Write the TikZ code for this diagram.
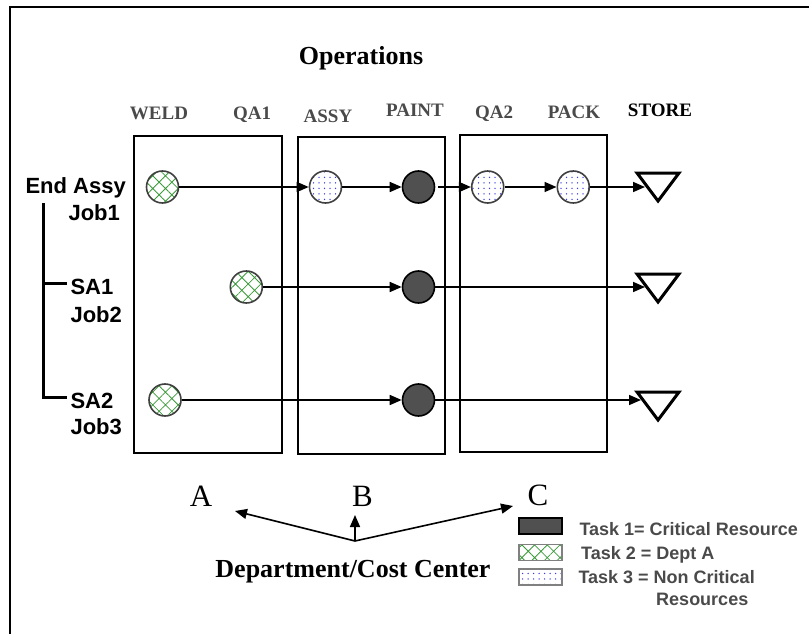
\documentclass[tikz,border=0pt]{standalone}
\usepackage{fontspec}
\setmainfont{Liberation Serif}
\setsansfont{Liberation Sans}
\usetikzlibrary{arrows.meta,patterns.meta}

\definecolor{critgray}{HTML}{505050}
\definecolor{labgray}{HTML}{4A4A4A}
\definecolor{rimgray}{HTML}{404040}
\definecolor{hatchgreen}{HTML}{3A9A3A}
\definecolor{dotblue}{HTML}{3C3CE6}

\begin{document}
\begin{tikzpicture}[x=1pt,y=-1pt,
    crit/.style={draw=black,fill=critgray},
    deptA/.style={draw=rimgray,pattern={Hatch[angle=45,distance=9pt,line width=0.8pt]},pattern color=hatchgreen},
    noncrit/.style={draw=rimgray,pattern={Dots[distance=5.5pt,radius=0.75pt]},pattern color=dotblue},
    hdr/.style={anchor=base,text=labgray,font=\bfseries\fontsize{19}{22}\selectfont},
    job/.style={anchor=base west,font=\sffamily\bfseries\fontsize{22}{26}\selectfont},
    legtext/.style={anchor=base west,text=labgray,font=\sffamily\bfseries\fontsize{18}{21}\selectfont},
    dept/.style={anchor=base,font=\fontsize{31}{36}\selectfont},
    legbox/.style={rectangle,minimum width=43pt,minimum height=16pt,inner sep=0pt,line width=1.6pt},
    storetri/.style={line width=3pt,line join=miter},
    flow/.style={-{Triangle[length=12pt,width=10pt]},line width=1.6pt}
  ]

      \useasboundingbox (0,0) rectangle (809,634);
      \draw[line width=2pt] (10,634) -- (10,7) -- (809,7);

      % departments
      \draw[line width=1.8pt] (134,136) rectangle (282,453);
      \draw[line width=1.8pt] (298,137) rectangle (445,454);
      \draw[line width=1.8pt] (460,135) rectangle (607,452);

      \node[anchor=base,font=\bfseries\fontsize{26}{30}\selectfont] (ops) at (361,65) {Operations};
      \foreach \x/\y/\t in {159/119/WELD,252/119/QA1,328/122/ASSY,415/117/PAINT,494/118/QA2,574/118/PACK}
        \node[hdr] (h\t) at (\x,\y) {\t};
      \node[hdr,text=black] (hSTORE) at (660,117) {STORE};

      % jobs
      \node[job] (ea) at (22,193) {End Assy};
      \node[job] (j1) at (65,220) {Job1};
      \node[job] (sa1) at (67,294) {SA1};
      \node[job] (j2) at (67,322) {Job2};
      \node[job] (sa2) at (67,408) {SA2};
      \node[job] (j3) at (67,434) {Job3};
      \coordinate (t0) at (43,203);
      \coordinate (t1) at (43,283);
      \coordinate (t2) at (43,397);
      \draw[line width=3pt] (t0) -- (t2) -- ++(24,0);
      \draw[line width=3pt] (t1) -- ++(24,0);

      % stores
      \foreach \n/\y in {1/173,2/274,3/392}
        \draw[storetri] (637,\y) coordinate (s\n) -- ++(42,0) -- ++(-21,28) -- cycle;
      \coordinate (e1) at (645,187);
      \coordinate (e2) at (645,287);
      \coordinate (e3) at (641,400);

      \begin{scope}[every node/.style={circle,minimum size=32pt,inner sep=0pt,line width=1.6pt}]
        \node[deptA]   (w1) at (162.5,187) {};
        \node[noncrit] (a1) at (325.5,187) {};
        \node[crit]    (p1) at (418.5,187) {};
        \node[noncrit] (q1) at (487.7,187) {};
        \node[noncrit] (k1) at (573.3,187) {};
        \node[deptA]   (q2) at (246.3,287) {};
        \node[crit]    (p2) at (418.5,287) {};
        \node[deptA]   (w3) at (165,400) {};
        \node[crit]    (p3) at (418.5,400) {};
      \end{scope}

      \begin{scope}[every edge/.style={draw,flow}]
        \path (w1) edge (a1);
        \path (a1) edge (p1);
        \path (p1) edge[shorten <=3pt] (q1);
        \path (q1) edge (k1);
        \path (k1) edge (e1);
        \path (q2) edge (p2);
        \path (p2) edge (e2);
        \path (w3) edge (p3);
        \path (p3) edge (e3);
      \end{scope}

      % cost centers
      \node[dept] (A) at (201,506) {A};
      \node[dept] (B) at (362.5,506) {B};
      \node[dept] (C) at (538,505) {C};
      \coordinate (dj) at (355,541);
      \coordinate (ta) at (235,511);
      \coordinate (tb) at (355,515);
      \coordinate (tc) at (513,506);
      \draw[flow] (dj) -- (ta);
      \draw[flow] (dj) -- (tb);
      \draw[flow] (dj) -- (tc);
      \node[anchor=base,font=\bfseries\fontsize{26}{30}\selectfont] (dcc) at (353,577) {Department/Cost Center};

      % legend
      \node[legbox,crit] (l1) at (540.5,526) {};
      \node[legbox,deptA,draw=gray] (l2) at (540.5,552.5) {};
      \node[legbox,noncrit,draw=gray] (l3) at (540.5,577) {};
      \node[legtext] (lt1) at (576,535) {Task 1= Critical Resource};
      \node[legtext] (lt2) at (577.7,559) {Task 2 = Dept A};
      \node[legtext] (lt3) at (575,583) {Task 3 = Non Critical};
      \node[legtext] (lt4) at (652.7,605.7) {Resources};

\end{tikzpicture}
\end{document}
